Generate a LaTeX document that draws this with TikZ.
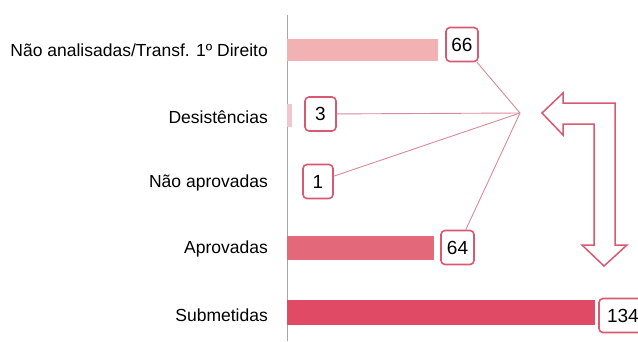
\documentclass[tikz,border=0pt]{standalone}
\usepackage{fontspec}
\setmainfont{Liberation Sans}
\usepackage{tikz}
\usetikzlibrary{positioning}
\definecolor{barA}{HTML}{F2B2B4}
\definecolor{barB}{HTML}{F2C6CE}
\definecolor{barC}{HTML}{E2687A}
\definecolor{barD}{HTML}{E04A64}
\definecolor{boxred}{HTML}{D85A72}
\definecolor{linkred}{HTML}{D98A9A}

\begin{document}
\begin{tikzpicture}[x=1pt,y=-1pt]
\tikzset{every node/.append style={font=\fontsize{17.5}{20}\selectfont}}
\tikzset{lbl/.style={anchor=east,inner sep=0pt}}
\tikzset{valbox/.style={draw=boxred,line width=1.6pt,rounded corners=4pt,fill=white,minimum height=34pt,inner sep=0pt,font=\fontsize{19}{22}\selectfont}}
\tikzset{link/.style={draw=linkred,line width=0.9pt}}
\clip (0,0) rectangle (638,341);
\fill [white] (0,0) rectangle (638,341);
\draw [gray!70,line width=1pt] (287,15) -- (287,341);
\fill [barA] (287,39) rectangle (438,61);
\fill [barB] (287,104) rectangle (292,127);
\fill [barC] (287,236) rectangle (434,260);
\fill [barD] (287,300) rectangle (595,325);
\node [lbl] (lbl66) at (268,50) {Não analisadas/Transf. 1º Direito};
\node [lbl] (lbl3) at (268,117) {Desistências};
\node [lbl] (lbl1) at (268,183) {Não aprovadas};
\node [lbl] (lbl64) at (268,249) {Aprovadas};
\node [lbl] (lbl134) at (268,315) {Submetidas};
\node [valbox,minimum width=32pt] (n66) at (462,44.5) {66};
\node [valbox,minimum width=31pt] (n3) at (320.5,114) {3};
\node [valbox,minimum width=30pt] (n1) at (318,181.5) {1};
\node [valbox,minimum width=33pt] (n64) at (457.5,247.5) {64};
\node [valbox,minimum width=50pt,align=left,text width=40pt] (n134) at (624,315.5) {\hspace*{3pt}134};
\coordinate (hub) at (520,113);
\draw [link] (n66) -- (hub);
\draw [link] (n3) -- (hub);
\draw [link] (n1) -- (hub);
\draw [link] (n64) -- (hub);
% turn arrow
\draw [boxred,line width=1.5pt,fill=white,line join=miter]
  (542,113) -- (563,93) -- (563,103) -- (615,103) -- (615,245) -- (627,245)
  -- (604,266) -- (582,245) -- (594,245) -- (594,124) -- (563,124) -- (563,135) -- cycle;
\end{tikzpicture}
\end{document}
